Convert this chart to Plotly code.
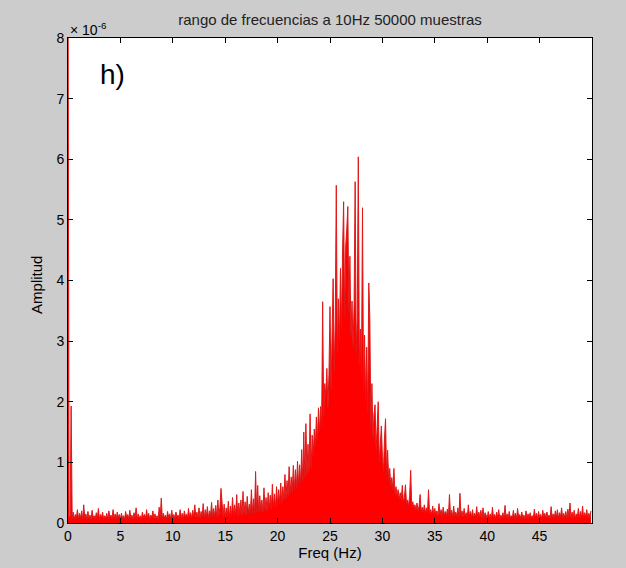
import plotly.graph_objects as go

# Spectrum amplitude (units of 1e-6), sampled every 0.1 Hz from 0 to 49.9 Hz
amp_00_05 = [9.5, 0.08, 0.12, 1.93, 0.07, 0.18, 0.06, 0.14, 0.09, 0.22, 0.07, 0.16, 0.08, 0.20, 0.06, 0.30, 0.09, 0.15, 0.07, 0.19,
             0.08, 0.13, 0.06, 0.21, 0.09, 0.12, 0.07, 0.17, 0.08, 0.24, 0.06, 0.14, 0.09, 0.18, 0.07, 0.12, 0.08, 0.16, 0.06, 0.20,
             0.09, 0.13, 0.07, 0.22, 0.08, 0.15, 0.06, 0.18, 0.09, 0.14]
amp_05_10 = [0.07, 0.16, 0.08, 0.12, 0.06, 0.19, 0.09, 0.14, 0.07, 0.21, 0.08, 0.13, 0.06, 0.17, 0.09, 0.25, 0.07, 0.15, 0.08, 0.12,
             0.06, 0.18, 0.09, 0.14, 0.07, 0.22, 0.08, 0.16, 0.06, 0.13, 0.09, 0.20, 0.07, 0.15, 0.08, 0.12, 0.06, 0.26, 0.09, 0.41,
             0.07, 0.16, 0.08, 0.13, 0.06, 0.19, 0.09, 0.15, 0.07, 0.21]
amp_10_15 = [0.08, 0.14, 0.07, 0.18, 0.10, 0.13, 0.08, 0.22, 0.09, 0.16, 0.07, 0.20, 0.10, 0.15, 0.08, 0.24, 0.09, 0.17, 0.08, 0.21,
             0.11, 0.30, 0.09, 0.18, 0.10, 0.25, 0.08, 0.19, 0.11, 0.32, 0.09, 0.22, 0.10, 0.27, 0.08, 0.20, 0.12, 0.34, 0.10, 0.24,
             0.11, 0.29, 0.09, 0.38, 0.12, 0.26, 0.57, 0.21, 0.11, 0.31]
amp_15_20 = [0.10, 0.25, 0.12, 0.36, 0.09, 0.28, 0.11, 0.42, 0.12, 0.30, 0.13, 0.47, 0.10, 0.33, 0.14, 0.38, 0.12, 0.52, 0.15, 0.35,
             0.13, 0.44, 0.16, 0.31, 0.14, 0.55, 0.17, 0.40, 0.15, 0.85, 0.18, 0.62, 0.16, 0.45, 0.20, 0.38, 0.18, 0.58, 0.22, 0.42,
             0.20, 0.50, 0.24, 0.46, 0.22, 0.64, 0.26, 0.48, 0.25, 0.60]
amp_20_25 = [0.30, 0.55, 0.34, 0.66, 0.32, 0.60, 0.38, 0.80, 0.40, 0.70, 0.45, 0.93, 0.48, 0.76, 0.52, 0.95, 0.55, 0.88, 0.58, 1.02,
             0.62, 0.96, 0.66, 1.21, 0.70, 1.50, 0.75, 1.64, 0.80, 1.30, 0.85, 1.80, 0.90, 1.45, 1.10, 1.55, 1.25, 1.75, 1.35, 1.90,
             1.50, 1.92, 1.60, 3.65, 1.75, 2.30, 2.10, 2.55, 1.90, 2.45]
amp_25_30 = [3.57, 2.20, 2.90, 4.03, 2.50, 3.30, 5.57, 2.80, 3.70, 3.00, 4.20, 3.20, 4.50, 5.30, 3.40, 4.57, 4.85, 5.22, 3.50, 4.40,
             3.10, 3.66, 2.90, 3.60, 5.63, 2.80, 3.40, 6.04, 2.60, 3.20, 2.40, 5.20, 2.20, 3.10, 2.00, 2.90, 1.80, 3.96, 3.39, 1.60,
             2.30, 1.40, 1.80, 1.95, 1.20, 1.60, 2.00, 1.00, 1.45, 1.60]
amp_30_35 = [1.10, 0.85, 1.40, 1.72, 0.80, 1.20, 0.70, 0.90, 0.60, 0.75, 0.55, 0.90, 0.48, 0.60, 0.45, 0.55, 0.40, 0.50, 0.38, 0.62,
             0.35, 0.42, 0.63, 0.32, 0.38, 0.28, 0.45, 0.87, 0.26, 0.35, 0.24, 0.30, 0.22, 0.33, 0.20, 0.28, 0.47, 0.19, 0.26, 0.18,
             0.30, 0.17, 0.25, 0.16, 0.55, 0.15, 0.22, 0.14, 0.28, 0.14]
amp_35_40 = [0.24, 0.13, 0.20, 0.12, 0.32, 0.14, 0.22, 0.11, 0.26, 0.13, 0.19, 0.12, 0.23, 0.11, 0.47, 0.12, 0.21, 0.10, 0.28, 0.12,
             0.18, 0.11, 0.25, 0.10, 0.49, 0.12, 0.20, 0.10, 0.24, 0.11, 0.17, 0.09, 0.30, 0.11, 0.19, 0.10, 0.22, 0.09, 0.16, 0.10,
             0.27, 0.09, 0.18, 0.10, 0.21, 0.08, 0.25, 0.09, 0.17, 0.10]
amp_40_45 = [0.08, 0.19, 0.09, 0.15, 0.07, 0.26, 0.09, 0.14, 0.08, 0.18, 0.09, 0.22, 0.07, 0.13, 0.09, 0.17, 0.08, 0.29, 0.09, 0.15,
             0.07, 0.19, 0.09, 0.12, 0.08, 0.21, 0.09, 0.16, 0.07, 0.24, 0.09, 0.14, 0.08, 0.18, 0.09, 0.13, 0.07, 0.20, 0.09, 0.15,
             0.08, 0.17, 0.09, 0.12, 0.07, 0.23, 0.09, 0.16, 0.08, 0.19]
amp_45_50 = [0.09, 0.14, 0.07, 0.21, 0.10, 0.16, 0.08, 0.18, 0.09, 0.13, 0.08, 0.27, 0.10, 0.15, 0.08, 0.20, 0.09, 0.22, 0.08, 0.17,
             0.10, 0.25, 0.08, 0.16, 0.09, 0.19, 0.08, 0.23, 0.10, 0.33, 0.08, 0.18, 0.09, 0.21, 0.08, 0.15, 0.10, 0.24, 0.08, 0.19,
             0.09, 0.28, 0.08, 0.17, 0.10, 0.22, 0.08, 0.16, 0.09, 0.20]

amplitude = (amp_00_05 + amp_05_10 + amp_10_15 + amp_15_20 + amp_20_25 +
             amp_25_30 + amp_30_35 + amp_35_40 + amp_40_45 + amp_45_50)
freq_step = 0.1
freqs = [round(i * freq_step, 1) for i in range(len(amplitude))]

x_ticks = [0, 5, 10, 15, 20, 25, 30, 35, 40, 45]
y_ticks = [0, 1, 2, 3, 4, 5, 6, 7, 8]

FONT = "Liberation Sans, Arial, sans-serif"

fig = go.Figure()
fig.add_trace(go.Scatter(x=freqs, y=amplitude, mode="lines", fill="tozeroy", fillcolor="#ff0000",
                         line=dict(color="#e01818", width=1), showlegend=False))

fig.update_layout(
    width=626, height=568,
    paper_bgcolor="#cccccc", plot_bgcolor="#ffffff",
    margin=dict(l=68, r=34, t=38, b=41),
    font=dict(family=FONT, size=14, color="#000000"),
    title=dict(text="rango de frecuencias a 10Hz 50000 muestras", x=0.5, xanchor="center",
               xref="paper", y=1 - 20 / 568, yanchor="middle", font=dict(size=15, family=FONT, color="#222")),
    xaxis=dict(range=[0, 50], tickvals=x_ticks, ticks="inside", ticklen=5, tickcolor="#000",
               showline=True, linecolor="#000", linewidth=1, mirror="ticks", showgrid=False,
               zeroline=False, tickfont=dict(size=14), title=dict(text="Freq (Hz)", standoff=2, font=dict(size=15))),
    yaxis=dict(range=[0, 8], tickvals=y_ticks, ticks="inside", ticklen=5, tickcolor="#000",
               showline=True, linecolor="#000", linewidth=1, mirror="ticks", showgrid=False,
               zeroline=False, tickfont=dict(size=14)),
)

fig.add_annotation(x=-0.059, y=0.491, xref="paper", yref="paper", xanchor="center", yanchor="middle",
                   text="Amplitud", textangle=-90, showarrow=False, font=dict(size=15, family=FONT))
fig.add_annotation(x=0, y=1, xref="paper", yref="paper", xanchor="left", yanchor="bottom",
                   text="× 10<sup>-6</sup>", showarrow=False, font=dict(size=14, family=FONT), yshift=-2)
fig.add_annotation(x=0.058, y=0.924, xref="paper", yref="paper", xanchor="left", yanchor="middle",
                   text="h)", showarrow=False, font=dict(size=28, family=FONT))

fig.write_html("out.html")
